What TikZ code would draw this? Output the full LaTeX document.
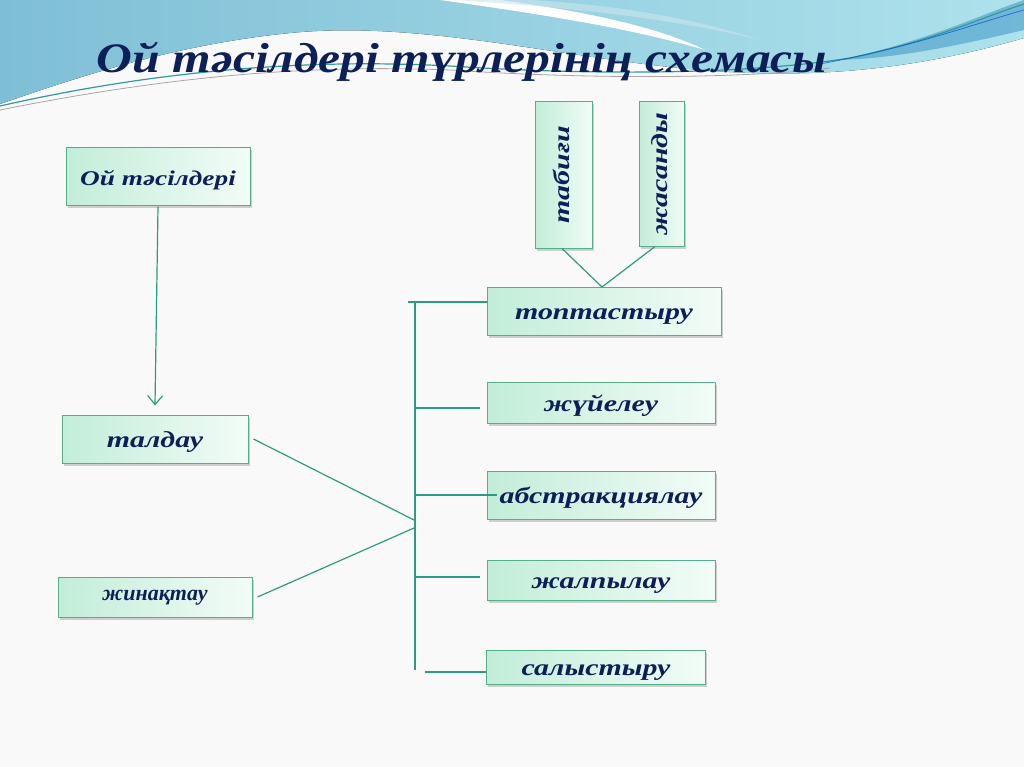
\documentclass[tikz,border=0pt]{standalone}
\usepackage{fontspec}
\setmainfont{Liberation Serif}
\usetikzlibrary{positioning,shadows,arrows.meta}

\definecolor{ink}{HTML}{0C1F57}
\definecolor{linkgreen}{HTML}{2E9B80}
\definecolor{boxedge}{HTML}{55B08A}
\definecolor{boxleft}{HTML}{C2EDD9}
\definecolor{boxmid}{HTML}{9EE2C2}
\definecolor{boxright}{HTML}{F2FCF7}
\definecolor{paper}{HTML}{F9F9F9}
\definecolor{wavetop}{HTML}{7FBFD6}
\definecolor{waveright}{HTML}{AEE2EC}

% wide italic lettering
\newcommand\widetext[1]{\scalebox{1.3}[1]{#1}}

\tikzset{
  box/.style={draw=boxedge, line width=1pt, inner sep=0pt,
    left color=boxleft, middle color=boxmid, right color=boxright,
    drop shadow={opacity=0.35, shadow xshift=1.5pt, shadow yshift=-2.5pt},
    text=ink, text height=17pt, text depth=0pt,
    font=\fontsize{23}{27}\selectfont\bfseries\itshape},
  link/.style={draw=linkgreen, line width=1.2pt},
}

\begin{document}
\begin{tikzpicture}[x=1pt, y=-1pt]
  \useasboundingbox (0,0) rectangle (1024,767);
  % background and wave
  \fill[paper] (0,0) rectangle (1024,767);
  \fill[left color=wavetop, right color=waveright]
    (0,0) -- (1024,0) -- (1024,38)
    .. controls (920,68) and (820,80) .. (700,70)
    .. controls (560,58) and (420,20) .. (290,33)
    .. controls (170,45) and (70,80) .. (0,104) -- cycle;
  \fill[white] (440,0) -- (500,0)
    .. controls (590,12) and (660,28) .. (705,50)
    .. controls (630,28) and (540,14) .. (440,0) -- cycle;
  \fill[white!60!wavetop, opacity=0.6] (455,0) -- (530,0)
    .. controls (620,5) and (700,20) .. (760,40)
    .. controls (680,20) and (580,8) .. (455,0) -- cycle;
  \fill[blue!40!cyan!70!black, opacity=0.35] (840,60)
    .. controls (930,40) and (980,15) .. (1024,0) -- (1024,30)
    .. controls (960,45) and (900,58) .. (840,60) -- cycle;
  \draw[teal!80, line width=1.2pt] (0,106)
    .. controls (150,72) and (300,58) .. (450,66)
    .. controls (600,76) and (750,74) .. (850,58)
    .. controls (930,42) and (980,18) .. (1024,4);
  \draw[gray!70, line width=0.8pt] (0,110)
    .. controls (160,78) and (300,64) .. (450,70)
    .. controls (600,80) and (750,78) .. (830,68);
  \draw[blue!60!cyan!80!black, line width=0.8pt, opacity=0.7] (820,64)
    .. controls (920,45) and (980,22) .. (1024,10);

  % title
  \node[text=ink, anchor=base, font=\fontsize{42}{48}\selectfont\bfseries\itshape]
    (title) at (462,73) {\scalebox{1.18}[1]{Ой тәсілдері түрлерінің схемасы}};

  % left column
  \node[box, minimum width=184, minimum height=58,
    font=\fontsize{21}{25}\selectfont\bfseries\itshape] (methods) at (158,177) {\widetext{Ой тәсілдері}};
  \node[box, minimum width=186, minimum height=48] (analysis) at (155,439) {\widetext{талдау}};
  \node[box, minimum width=194, minimum height=40, text height=6pt,
    font=\fontsize{22}{26}\selectfont\bfseries\itshape] (synthesis) at (155,597) {жинақтау};

  % right column
  \node[box, minimum width=234, minimum height=48] (grouping) at (604,311) {\widetext{топтастыру}};
  \node[box, minimum width=228, minimum height=41] (system) at (601,403) {\widetext{жүйелеу}};
  \node[box, minimum width=228, minimum height=48] (abstract) at (601,495) {\widetext{абстракциялау}};
  \node[box, minimum width=228, minimum height=40] (general) at (601,580) {\widetext{жалпылау}};
  \node[box, minimum width=219, minimum height=34] (compare) at (596,667) {\widetext{салыстыру}};

  % vertical boxes
  \node[box, rotate=90, minimum width=146, minimum height=57, text height=11pt] (natural) at (564,175) {\widetext{табиғи}};
  \node[box, rotate=90, minimum width=144, minimum height=45, text height=11pt] (artificial) at (662,174) {\widetext{жасанды}};

  % connectors
  \draw[link, -{Straight Barb[length=9pt, width=15pt]}] (methods.south) -- ([yshift=9pt]analysis.north);
  \coordinate (trunkTop) at (415,302);
  \coordinate (trunkBot) at (415,670);
  \coordinate (meetA) at (414,520);
  \coordinate (meetB) at (414,528);
  \draw[link] (trunkTop) -- (trunkBot);
  \draw[link] ([xshift=5pt]analysis.east) -- (meetA);
  \draw[link] ([xshift=5pt]synthesis.east) -- (meetB);
  \draw[link] (408,302) -- (grouping.west |- 0,302);
  \draw[link] (415,408) -- (480,408);
  \draw[link] (415,495) -- (497,495);
  \draw[link] (415,577) -- (480,577);
  \draw[link] (425,672) -- (compare.west |- 0,672);
  \coordinate (fork) at (602,287);
  \draw[link] (562,0 |- natural.west) -- (fork);
  \draw[link] (655,0 |- artificial.west) -- (fork);
\end{tikzpicture}
\end{document}
